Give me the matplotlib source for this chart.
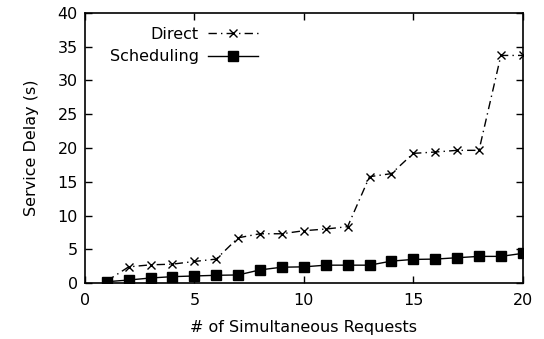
import numpy as np
import matplotlib.pyplot as plt

# service delay vs. number of simultaneous requests
requests = np.arange(1, 21)
direct = [0.3, 2.4, 2.7, 2.8, 3.2, 3.55, 6.7, 7.3, 7.3, 7.75,
          8.0, 8.35, 15.75, 16.2, 19.2, 19.4, 19.65, 19.65, 33.7, 33.7]
scheduling = [0.2, 0.45, 0.75, 0.95, 1.05, 1.15, 1.2, 1.95, 2.35, 2.4,
              2.65, 2.65, 2.65, 3.25, 3.5, 3.55, 3.75, 3.95, 3.95, 4.4]

plt.rcParams['font.family'] = ['DejaVu Sans']
plt.rcParams['font.size'] = 11.5

fig = plt.figure(figsize=(5.44, 3.39), dpi=100)
ax = fig.add_axes([0.156, 0.165, 0.805, 0.797])

ax.plot(requests, direct, color='black', linewidth=1, linestyle=(0, (6, 3, 1, 3)),
        marker='x', markersize=6, markeredgewidth=1, label='Direct')
ax.plot(requests, scheduling, color='black', linewidth=1, linestyle='-',
        marker='s', markersize=7, label='Scheduling')

ax.set_xlim(0, 20)
ax.set_ylim(0, 40)
ax.set_xticks([0, 5, 10, 15, 20])
ax.set_yticks(np.arange(0, 41, 5))
ax.tick_params(direction='in', top=True, right=True, length=5, width=1)
ax.tick_params(axis='x', pad=7)
ax.tick_params(axis='y', pad=5)
for s in ax.spines.values():
    s.set_linewidth(1.2)

ax.set_xlabel('# of Simultaneous Requests', labelpad=9)
ax.set_ylabel('Service Delay (s)', labelpad=13)

ax.legend(loc='upper right', bbox_to_anchor=(0.395, 0.948), frameon=False,
          markerfirst=False, handlelength=3.1, handletextpad=0.6,
          labelspacing=0.45, borderpad=0, borderaxespad=0)

fig.savefig('out.png', dpi=100)
